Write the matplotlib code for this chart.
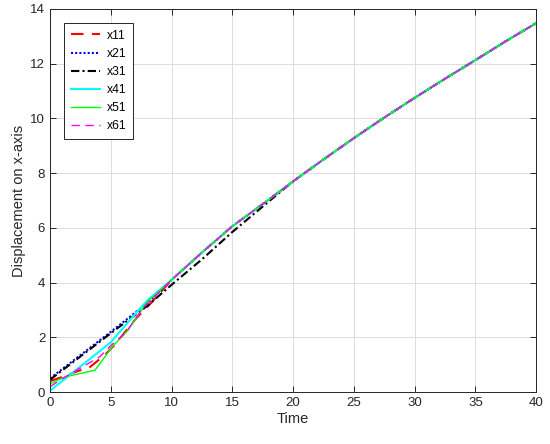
import numpy as np
import matplotlib
matplotlib.use("Agg")
import matplotlib.pyplot as plt

plt.rcParams["font.family"] = ["Liberation Sans", "DejaVu Sans"]

# shared tail once all series have converged
t_tail = [10, 12.5, 15, 17.5, 20, 22.5, 25, 27.5, 30, 32.5, 35, 37.5, 40]
y_tail = [4.1, 5.1, 6.06, 6.87, 7.7, 8.5, 9.28, 10.03, 10.75, 11.45, 12.13, 12.82, 13.48]

t_x11 = [0, 1, 2, 3.3, 4.5, 5.3, 7.1, 8.2] + t_tail
y_x11 = [0.4, 0.55, 0.72, 0.92, 1.35, 1.72, 2.7, 3.2] + y_tail

t_x21 = [0, 5, 8] + t_tail
y_x21 = [0.5, 2.2, 3.25] + y_tail

t_x31 = [0, 5, 8, 10, 12.5, 15, 17.5] + t_tail[4:]
y_x31 = [0.45, 2.15, 3.15, 3.92, 4.85, 5.85, 6.78] + y_tail[4:]

t_x41 = [0, 5, 6.9, 8] + t_tail
y_x41 = [0.05, 1.82, 2.8, 3.35] + y_tail

t_x51 = [0, 1.2, 3.7, 4.2, 5.1, 6.4, 8] + t_tail
y_x51 = [0.3, 0.55, 0.8, 1.1, 1.65, 2.25, 3.3] + y_tail

t_x61 = [0, 1.5, 4.1, 5, 6.2, 7.6] + t_tail
y_x61 = [0.2, 0.62, 1.29, 1.7, 2.15, 3.05] + y_tail

fig = plt.figure(figsize=(5.5, 4.44), dpi=100)
ax = fig.add_axes([0.091, 0.117, 0.884, 0.863])

lw = 1.5
ax.plot(t_x11, y_x11, color="red", linestyle=(0, (6, 4)), lw=lw, label="x11")
ax.plot(t_x21, y_x21, color="blue", linestyle=(0, (1, 1)), lw=lw, label="x21")
ax.plot(t_x31, y_x31, color="black", linestyle=(0, (4, 1.5, 1, 1.5)), lw=lw, label="x31")
ax.plot(t_x41, y_x41, color="cyan", linestyle="-", lw=lw, label="x41")
ax.plot(t_x51, y_x51, color="#00ff00", linestyle="-", lw=1.0, label="x51")
ax.plot(t_x61, y_x61, color="magenta", linestyle=(0, (6, 4)), lw=1.0, label="x61")

ax.set_xlim(0, 40)
ax.set_ylim(0, 14)
ax.set_xticks(np.arange(0, 41, 5))
ax.set_yticks(np.arange(0, 15, 2))
ax.grid(True, color="#dcdcdc", lw=0.7)
ax.set_axisbelow(True)
for s in ax.spines.values():
    s.set_color("#262626")
    s.set_linewidth(0.7)
ax.tick_params(direction="in", top=True, right=True, labelsize=9.5,
               colors="#262626", length=4, width=0.7)
ax.set_xlabel("Time", fontsize=10.5, color="#262626", labelpad=2)
ax.set_ylabel("Displacement on x-axis", fontsize=10.5, color="#262626", labelpad=3)

leg = ax.legend(loc="upper left", bbox_to_anchor=(0.029, 0.963), borderaxespad=0,
                fontsize=8.7, handlelength=2.4, fancybox=False, framealpha=1,
                edgecolor="#262626", borderpad=0.55, labelspacing=0.5,
                handletextpad=0.6)
leg.get_frame().set_linewidth(0.7)

fig.savefig("out.png", dpi=100)
